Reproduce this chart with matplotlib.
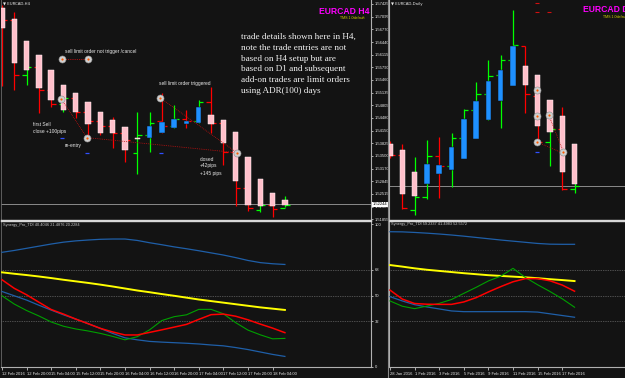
import matplotlib
matplotlib.use('Agg')
import matplotlib.pyplot as plt
from matplotlib.patches import Rectangle
import matplotlib.transforms as mtransforms

# ---------------- DATA ----------------
# H4 chart (12 Feb 2016 12:00 ... 18 Feb 2016 08:00)
h4_ha_open = [1.5732, 1.5704, 1.5647, 1.5611, 1.5572, 1.5534, 1.5513, 1.5490, 1.5462, 1.5443, 1.5425, 1.5397,
              1.5395, 1.5410, 1.5423, 1.5433, 1.5436, 1.5456, 1.5443, 1.5412, 1.5348, 1.5289, 1.5253, 1.5235]
h4_ha_close = [1.5681, 1.5590, 1.5572, 1.5526, 1.5495, 1.5469, 1.5464, 1.5431, 1.5410, 1.5408, 1.5366, 1.5393,
               1.5428, 1.5438, 1.5446, 1.5441, 1.5477, 1.5433, 1.5384, 1.5284, 1.5224, 1.5219, 1.5219, 1.5224]
h4_open = [1.5725, 1.5700, 1.5559, 1.5580, 1.5521, 1.5485, 1.5500, 1.5462, 1.5440, 1.5428, 1.5410, 1.5358,
           1.5405, 1.5440, 1.5428, 1.5446, 1.5441, 1.5490, 1.5436, 1.5360, 1.5268, 1.5210, 1.5224, 1.5215]
h4_high = [1.5740, 1.5722, 1.5603, 1.5590, 1.5547, 1.5508, 1.5505, 1.5480, 1.5443, 1.5451, 1.5425, 1.5464,
           1.5462, 1.5513, 1.5482, 1.5469, 1.5495, 1.5529, 1.5443, 1.5374, 1.5294, 1.5242, 1.5242, 1.5245]
h4_low = [1.5530, 1.5521, 1.5534, 1.5460, 1.5477, 1.5464, 1.5447, 1.5387, 1.5405, 1.5371, 1.5333, 1.5302,
          1.5361, 1.5410, 1.5423, 1.5423, 1.5436, 1.5410, 1.5327, 1.5219, 1.5206, 1.5204, 1.5193, 1.5217]
h4_close = [1.5700, 1.5559, 1.5580, 1.5521, 1.5485, 1.5500, 1.5462, 1.5440, 1.5428, 1.5410, 1.5390, 1.5405,
            1.5436, 1.5428, 1.5446, 1.5441, 1.5490, 1.5436, 1.5360, 1.5268, 1.5215, 1.5224, 1.5212, 1.5224]
h4_dates = ["12 Feb 2016", "12 Feb 20:00", "15 Feb 04:00", "15 Feb 12:00", "15 Feb 20:00", "16 Feb 04:00",
            "16 Feb 12:00", "16 Feb 20:00", "17 Feb 04:00", "17 Feb 12:00", "17 Feb 20:00", "18 Feb 04:00"]
h4_price_ticks = [1.57425, 1.57095, 1.56770, 1.56440, 1.56115, 1.55790, 1.55460, 1.55135, 1.54805,
                  1.54480, 1.54150, 1.53825, 1.53500, 1.53170, 1.52845, 1.52515, 1.52185, 1.51855]
current_price = 1.52244

# TDI on H4
h4_tdi_up = [80.2, 81.5, 83.0, 84.5, 86.0, 87.3, 88.2, 88.8, 89.3, 89.5, 89.5, 88.5,
             86.9, 85.5, 84.0, 82.7, 81.3, 79.8, 78.3, 76.5, 74.5, 73.0, 72.2, 71.7]
h4_tdi_mid = [66.2, 65.2, 64.3, 63.3, 62.2, 61.0, 59.9, 58.8, 57.6, 56.3, 54.9, 53.5,
              52.3, 51.0, 49.8, 48.5, 47.2, 46.1, 45.0, 43.9, 42.8, 41.7, 40.8, 39.9]
h4_tdi_signal = [61.0, 55.0, 50.5, 45.3, 40.2, 37.0, 33.5, 30.3, 27.0, 24.5, 22.4, 22.4,
                 24.2, 26.0, 27.9, 29.8, 33.3, 36.6, 37.0, 35.5, 33.0, 30.0, 27.2, 24.0]
h4_tdi_rsi = [49.8, 44.0, 39.5, 35.7, 31.5, 28.5, 26.6, 25.2, 23.5, 21.4, 19.0, 21.2,
              26.0, 32.5, 35.2, 36.5, 40.3, 40.3, 37.2, 31.0, 25.8, 22.5, 19.7, 20.0]
h4_tdi_low = [52.8, 49.8, 46.8, 43.2, 39.8, 36.5, 33.5, 30.3, 27.0, 23.5, 20.4, 19.0,
              17.9, 17.4, 17.0, 16.6, 16.1, 15.4, 14.8, 13.6, 12.2, 10.5, 8.8, 7.4]

# Daily chart (28 Jan 2016 ... 18 Feb 2016)
d1_ha_open = [1.5384, 1.5361, 1.5277, 1.5232, 1.5270, 1.5285, 1.5327, 1.5403,
              1.5475, 1.5548, 1.5604, 1.5680, 1.5646, 1.5551, 1.5490, 1.5384]
d1_ha_close = [1.5338, 1.5194, 1.5186, 1.5308, 1.5304, 1.5372, 1.5479, 1.5548,
               1.5623, 1.5665, 1.5756, 1.5608, 1.5453, 1.5430, 1.5277, 1.5232]
d1_open = [1.5370, 1.5342, 1.5133, 1.5182, 1.5338, 1.5300, 1.5406, 1.5513,
           1.5574, 1.5646, 1.5703, 1.5756, 1.5566, 1.5391, 1.5441, 1.5213]
d1_high = [1.5395, 1.5384, 1.5334, 1.5399, 1.5410, 1.5426, 1.5517, 1.5619,
           1.5703, 1.5722, 1.5893, 1.5756, 1.5589, 1.5494, 1.5524, 1.5251]
d1_low = [1.5330, 1.5137, 1.5114, 1.5175, 1.5178, 1.5220, 1.5334, 1.5430,
          1.5475, 1.5445, 1.5661, 1.5501, 1.5387, 1.5300, 1.5209, 1.5197]
d1_close = [1.5342, 1.5141, 1.5182, 1.5338, 1.5300, 1.5406, 1.5513, 1.5574,
            1.5642, 1.5703, 1.5760, 1.5574, 1.5391, 1.5441, 1.5213, 1.5224]
d1_dates = ["28 Jan 2016", "1 Feb 2016", "3 Feb 2016", "5 Feb 2016",
            "9 Feb 2016", "11 Feb 2016", "15 Feb 2016", "17 Feb 2016"]

d1_tdi_up = [94.6, 94.5, 94.1, 93.6, 93.0, 92.3, 91.5, 90.6, 89.7, 88.8, 88.0, 87.2, 86.4, 85.9, 85.8, 85.8]
d1_tdi_mid = [71.3, 70.2, 69.0, 68.0, 67.2, 66.4, 65.6, 64.9, 64.2, 63.7, 63.2, 62.7, 62.1, 61.4, 60.8, 60.1]
d1_tdi_signal = [53.8, 47.5, 44.4, 43.9, 43.8, 43.8, 45.5, 48.5, 52.5, 56.2, 59.6, 61.8, 61.8, 60.3, 57.3, 53.0]
d1_tdi_rsi = [46.2, 42.5, 40.8, 42.6, 44.5, 47.2, 51.5, 55.7, 60.2, 63.5, 69.0, 62.6, 57.5, 52.8, 47.7, 41.8]
d1_tdi_low = [49.2, 46.2, 43.6, 42.0, 40.6, 39.2, 38.7, 38.7, 38.7, 38.7, 38.7, 38.7, 38.4, 37.2, 36.0, 34.8]
tdi_levels = [68, 50, 32]
tdi_ticks = [100, 68, 50, 32, 0]

# trade markers (bar index, price)
h4_cancel_idx = [4.9, 7.0]
h4_cancel_price = [1.5601, 1.5601]
h4_path1_idx = [4.8, 6.9, 19.1]
h4_path1_price = [1.5498, 1.5397, 1.5358]
h4_path2_idx = [12.85, 19.1]
h4_path2_price = [1.5500, 1.5358]
h4_tp_idx = [4.9, 6.9, 12.9]
h4_tp_price = [1.5397, 1.5356, 1.5356]

d1_circle_idx = [11.95, 11.95, 11.95, 12.9, 14.1]
d1_circle_price = [1.5589, 1.5490, 1.5391, 1.5494, 1.5353]
d1_path_idx = [[12.9, 14.1], [11.95, 14.0]]
d1_path_price = [[1.5494, 1.5353], [1.5391, 1.5350]]
d1_red_idx = [11.95, 11.95, 12.9]
d1_red_price = [1.5919, 1.5885, 1.5885]
d1_tp_idx = [11.95]
d1_tp_price = [1.5353]

# ---------------- STYLE ----------------
W, H = 625, 378
BG = '#131313'
PINK = '#ffc0cb'
BLUE = '#1e90ff'
BULL = '#00ff00'
BEAR = '#ff0000'
TXT = '#e8e8e8'
SANS = ['Liberation Sans', 'DejaVu Sans']

fig = plt.figure(figsize=(W / 100, H / 100), dpi=100)
fig.patch.set_facecolor(BG)


def px_ax(x0, y0, x1, y1):
    ax = fig.add_axes([x0 / W, 1 - y1 / H, (x1 - x0) / W, (y1 - y0) / H])
    ax.set_facecolor(BG)
    for s in ax.spines.values():
        s.set_visible(False)
    ax.set_xticks([])
    ax.set_yticks([])
    return ax


def ftext(x, y, s, **kw):
    kw.setdefault('color', TXT)
    kw.setdefault('family', SANS)
    kw.setdefault('va', 'center')
    fig.text(x / W, 1 - y / H, s, **kw)


def draw_candles(ax, ha_o, ha_c, o, h, l, c):
    for i in range(len(o)):
        col = BULL if c[i] >= o[i] else BEAR
        ax.vlines(i, l[i], h[i], color=col, lw=0.9, zorder=2)
        ax.hlines(o[i], i - 0.38, i, color=col, lw=0.9, zorder=2)
        ax.hlines(c[i], i, i + 0.38, color=col, lw=0.9, zorder=2)
        bull = ha_c[i] >= ha_o[i]
        lo, hi = min(ha_o[i], ha_c[i]), max(ha_o[i], ha_c[i])
        ax.add_patch(Rectangle((i - 0.22, lo), 0.44, hi - lo,
                               facecolor=BLUE if bull else PINK,
                               edgecolor='#101010' if bull else '#fff0f3', lw=0.35, zorder=3))


def draw_tdi(ax, up, mid, sig, rsi, low):
    x = range(len(up))
    ax.plot(x, up, color='#1f5fa8', lw=0.9, zorder=3)
    ax.plot(x, low, color='#1f5fa8', lw=0.9, zorder=3)
    ax.plot(x, mid, color='#ffff00', lw=1.4, zorder=4)
    ax.plot(x, rsi, color='#00a000', lw=0.8, zorder=4)
    ax.plot(x, sig, color='#ff0000', lw=1.1, zorder=5)
    for lv in tdi_levels:
        ax.axhline(lv, color='#8a8a8a', lw=0.5, ls=(0, (1, 1.5)), zorder=1)
    ax.set_ylim(0, 102.1)


def circles(ax, xs, ys):
    ax.scatter(xs, ys, s=26, facecolor='#cfcfcf', edgecolor='#8c8c8c', lw=0.4, zorder=6)
    ax.scatter(xs, ys, s=2.5, color='#ff5a00', zorder=7, lw=0)


# ---------------- H4 main ----------------
ax1 = px_ax(1, 0, 371, 220)
ax1.set_xlim(-0.08, 30.0)
ax1.set_ylim(1.5184, 1.57528)
draw_candles(ax1, h4_ha_open, h4_ha_close, h4_open, h4_high, h4_low, h4_close)
ax1.axhline(current_price, color='#8a8a8a', lw=0.7, zorder=1)
ax1.yaxis.tick_right()
ax1.set_yticks(h4_price_ticks)
ax1.set_yticklabels([f'{t:.5f}' for t in h4_price_ticks], family=SANS)
ax1.tick_params(axis='y', colors=TXT, labelsize=3.0, length=1.5, width=0.5, pad=1)
ax1.spines['right'].set_visible(True)
ax1.spines['right'].set_color('#b0b0b0')
ax1.spines['right'].set_linewidth(0.8)
ax1.spines['left'].set_visible(True)
ax1.spines['left'].set_color('#6a6a6a')
ax1.spines['left'].set_linewidth(0.6)
ax1.spines['bottom'].set_visible(True)
ax1.spines['bottom'].set_color('#d8d8d8')
ax1.spines['bottom'].set_linewidth(1.0)
trans = mtransforms.blended_transform_factory(ax1.transAxes, ax1.transData)
ax1.text(1.004, current_price, f'{current_price:.5f}', transform=trans, fontsize=3.0, family=SANS,
         color='black', va='center', ha='left',
         bbox=dict(facecolor='white', edgecolor='none', pad=0.6), zorder=10, clip_on=False)

# trades
ax1.plot(h4_cancel_idx, h4_cancel_price, color='#d01010', lw=0.6, ls=(0, (1, 1.2)), zorder=5)
circles(ax1, h4_cancel_idx, h4_cancel_price)
ax1.plot(h4_path1_idx, h4_path1_price, color='#c01010', lw=0.6, ls=(0, (1, 1.2)), zorder=5)
ax1.plot(h4_path2_idx, h4_path2_price, color='#c01010', lw=0.6, ls=(0, (1, 1.2)), zorder=5)
circles(ax1, h4_path1_idx, h4_path1_price)
circles(ax1, h4_path2_idx[:1], h4_path2_price[:1])
for xi, yp in zip(h4_tp_idx, h4_tp_price):
    ax1.hlines(yp, xi - 0.15, xi + 0.15, color='#3050ff', lw=0.9, zorder=5)

# ---------------- H4 TDI ----------------
ax1i = px_ax(1, 221, 371, 367)
ax1i.set_xlim(-0.08, 30.0)
draw_tdi(ax1i, h4_tdi_up, h4_tdi_mid, h4_tdi_signal, h4_tdi_rsi, h4_tdi_low)
ax1i.yaxis.tick_right()
ax1i.set_yticks(tdi_ticks)
ax1i.set_yticklabels([str(t) for t in tdi_ticks], family=SANS)
ax1i.tick_params(axis='y', colors=TXT, labelsize=3.0, length=1.5, width=0.5, pad=1)
ax1i.set_xticks(range(0, 24, 2))
ax1i.set_xticklabels(h4_dates, family=SANS)
ax1i.tick_params(axis='x', colors=TXT, labelsize=3.0, length=2.5, width=0.5, pad=0.8)
for lab in ax1i.get_xticklabels():
    lab.set_ha('left')
for side, col, lw in [('top', '#d8d8d8', 1.0), ('bottom', '#b0b0b0', 0.8),
                      ('right', '#b0b0b0', 0.8), ('left', '#6a6a6a', 0.6)]:
    ax1i.spines[side].set_visible(True)
    ax1i.spines[side].set_color(col)
    ax1i.spines[side].set_linewidth(lw)

# ---------------- D1 main ----------------
ax2 = px_ax(389, 0, 625, 220)
ax2.set_xlim(-0.08, 19.1)
ax2.set_ylim(1.50948, 1.59308)
draw_candles(ax2, d1_ha_open, d1_ha_close, d1_open, d1_high, d1_low, d1_close)
ax2.axhline(current_price, color='#8a8a8a', lw=0.7, zorder=1)
for xs, ys in zip(d1_path_idx, d1_path_price):
    ax2.plot(xs, ys, color='#c01010', lw=0.6, ls=(0, (1, 1.2)), zorder=5)
circles(ax2, d1_circle_idx, d1_circle_price)
for xi, yp in zip(d1_red_idx, d1_red_price):
    ax2.hlines(yp, xi - 0.15, xi + 0.15, color='#d01010', lw=0.8, zorder=5)
for xi, yp in zip(d1_tp_idx, d1_tp_price):
    ax2.hlines(yp, xi - 0.15, xi + 0.15, color='#3050ff', lw=0.9, zorder=5)
for side, col, lw in [('left', '#b0b0b0', 0.8), ('bottom', '#d8d8d8', 1.0)]:
    ax2.spines[side].set_visible(True)
    ax2.spines[side].set_color(col)
    ax2.spines[side].set_linewidth(lw)

# ---------------- D1 TDI ----------------
ax2i = px_ax(389, 221, 625, 367)
ax2i.set_xlim(-0.08, 19.1)
draw_tdi(ax2i, d1_tdi_up, d1_tdi_mid, d1_tdi_signal, d1_tdi_rsi, d1_tdi_low)
ax2i.set_xticks(range(0, 16, 2))
ax2i.set_xticklabels(d1_dates, family=SANS)
ax2i.tick_params(axis='x', colors=TXT, labelsize=3.0, length=2.5, width=0.5, pad=0.8)
for lab in ax2i.get_xticklabels():
    lab.set_ha('left')
for side, col, lw in [('top', '#d8d8d8', 1.0), ('bottom', '#b0b0b0', 0.8), ('left', '#b0b0b0', 0.8)]:
    ax2i.spines[side].set_visible(True)
    ax2i.spines[side].set_color(col)
    ax2i.spines[side].set_linewidth(lw)

# window border between panels
fig.add_artist(plt.Line2D([387.5 / W, 387.5 / W], [0, 1], color='#8a8a8a', lw=0.8))

# ---------------- TEXT ----------------
ftext(3, 3.5, '\u25bc EURCAD,H4', fontsize=2.8, family=['DejaVu Sans'])
ftext(391, 3.5, '\u25bc EURCAD,Daily', fontsize=2.8, family=['DejaVu Sans'])
ftext(319, 11, 'EURCAD H4', fontsize=6.2, color='#ff00ff', weight='bold')
ftext(340, 18, 'TMS 1.0default', fontsize=2.6, color='#d8d800')
ftext(583, 9, 'EURCAD D1', fontsize=6.2, color='#ff00ff', weight='bold')
ftext(603, 16.5, 'TMS 1.0default', fontsize=2.6, color='#d8d800')
ftext(3, 225.5, 'Synergy_Pro_TDI 40.4046 21.4876 20.2284', fontsize=2.8, color='#c8c8c8')
ftext(391, 224.5, 'Synergy_Pro_TDI 59.2337 41.4983 52.5572', fontsize=2.8, color='#c8c8c8')

note = ["trade details shown here in H4,", "note the trade entries are not",
        "based on H4 setup but are", "based on D1 and subsequent",
        "add-on trades are limit orders", "using ADR(100) days"]
for k, line in enumerate(note):
    ftext(241, 37 + 10.8 * k, line, fontsize=6.6, family=['Liberation Serif', 'DejaVu Serif'], color='#f4f4f4')

ftext(65, 51, 'sell limit order not trigger /cancel', fontsize=3.5)
ftext(159, 83, 'sell limit order triggered', fontsize=3.5)
ftext(33, 124.3, 'first Sell', fontsize=3.5)
ftext(33, 131.8, 'close +100pips', fontsize=3.5)
ftext(65, 146, 're-entry', fontsize=3.5)
ftext(200, 159, 'closed', fontsize=3.5)
ftext(200, 166, '+42pips', fontsize=3.5)
ftext(200, 173, '+145 pips', fontsize=3.5)

fig.savefig('out.png', dpi=100, facecolor=BG)
